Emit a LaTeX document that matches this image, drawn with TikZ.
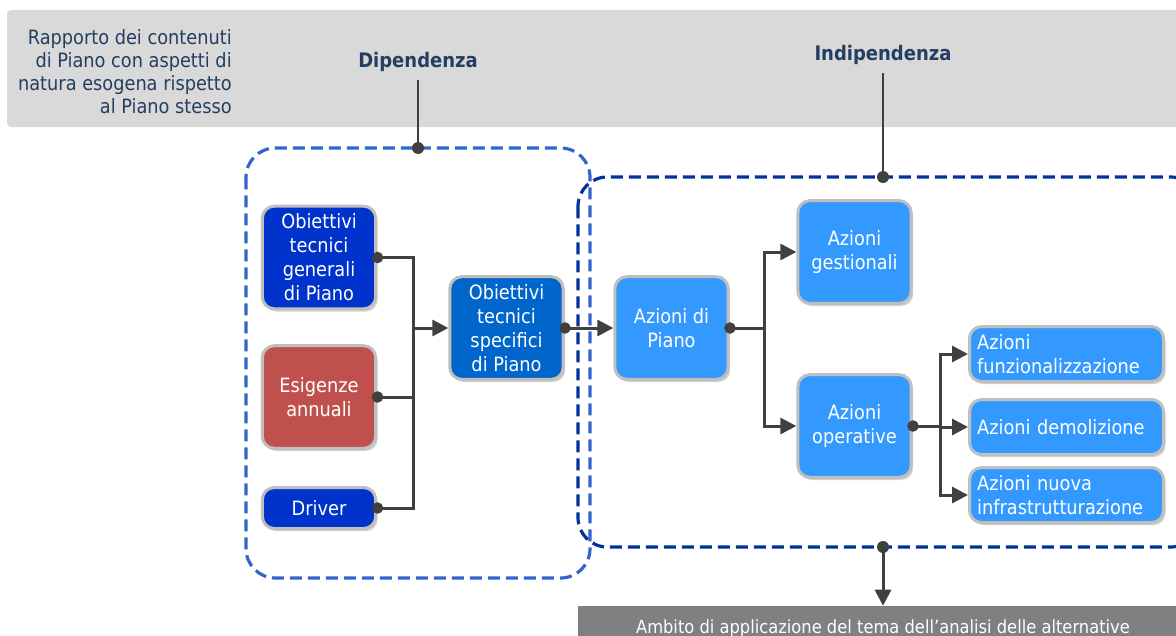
\documentclass[tikz,border=0pt]{standalone}
\usepackage{fontspec}
\setmainfont{DejaVu Sans Condensed}
\usetikzlibrary{arrows.meta,shadows}

\definecolor{fascia}{HTML}{D9D9D9}
\definecolor{titolo}{HTML}{243E62}
\definecolor{dipblu}{HTML}{3366CC}
\definecolor{indblu}{HTML}{003399}
\definecolor{blusc}{HTML}{0033CC}
\definecolor{blumd}{HTML}{0066CC}
\definecolor{bluch}{HTML}{3399FF}
\definecolor{rosso}{HTML}{C0504D}
\definecolor{bordo}{HTML}{BFBFBF}
\definecolor{filo}{HTML}{404040}
\definecolor{barra}{HTML}{808080}

\tikzset{
  blocco/.style={draw=bordo, line width=2.25pt, rounded corners=9pt, text=white, align=center,
    inner sep=2pt, font=\fontsize{14.8pt}{18pt}\selectfont,
    drop shadow={shadow xshift=1.5pt, shadow yshift=-2pt, opacity=0.3, fill=black!60}},
  grande/.style={blocco, minimum width=85pt, minimum height=77pt},
  lungo/.style={blocco, minimum width=145.5pt, minimum height=41.25pt, text width=134pt,
    inner xsep=5.75pt, align=left},
  conn/.style={draw=filo, line width=2.25pt},
  punto/.style={conn, shorten <=-4pt, {Circle[length=8.5pt]}-},
  freccia/.style={conn, -{Triangle[length=12pt,width=12pt]}},
  cornice/.style={line width=2.4pt, dash pattern=on 9pt off 4.5pt, rounded corners=22pt},
  intest/.style={text=titolo, font=\bfseries\fontsize{15pt}{18pt}\selectfont}
}

\begin{document}
\begin{tikzpicture}[x=0.75pt, y=-0.75pt]
  \useasboundingbox (0,0) rectangle (1176,635);
  \clip (0,0) rectangle (1176,635);

  % fascia in alto
  \fill[fascia, rounded corners=3pt] (7,10) rectangle (1200,127);
  \node[anchor=east, align=right, text=titolo, inner sep=0pt,
        font=\fontsize{14.8pt}{17.25pt}\selectfont] (rapp) at (232,72)
        {Rapporto dei contenuti\\di Piano con aspetti di\\natura esogena rispetto\\al Piano stesso};
  \node[intest] (dip) at (418,62) {Dipendenza};
  \node[intest] (indip) at (883,55) {Indipendenza};

  % cornici tratteggiate
  \draw[cornice, dipblu] (246,148) rectangle (590,578);
  \draw[cornice, indblu] (578,177) rectangle (1200,547);
  \coordinate (pdip) at (418,148);
  \coordinate (pind) at (883,177);
  \coordinate (pbas) at (883,547);
  \draw[filo, line width=1.5pt, shorten <=3pt] (dip) -- (pdip);
  \draw[filo, line width=1.5pt, shorten <=3pt] (indip) -- (pind);
  \fill[filo] (pdip) circle[radius=4.5pt] (pind) circle[radius=4.5pt] (pbas) circle[radius=4.5pt];

  % blocchi
  \node[grande, fill=blusc] (otg) at (319,257.5) {Obiettivi\\tecnici\\generali\\di Piano};
  \node[grande, fill=rosso] (esig) at (319,397) {Esigenze\\annuali};
  \node[blocco, fill=blusc, minimum width=85pt, minimum height=30.75pt] (drv) at (319,508) {Driver};
  \node[grande, fill=blumd] (ots) at (506.5,328) {Obiettivi\\tecnici\\specifici\\di Piano};
  \node[grande, fill=bluch] (adp) at (671.5,328) {Azioni di\\Piano};
  \node[grande, fill=bluch] (gest) at (854.5,252) {Azioni\\gestionali};
  \node[grande, fill=bluch] (oper) at (854.5,426) {Azioni\\operative};
  \node[lungo, fill=bluch] (funz) at (1066.5,354) {Azioni\\funzionalizzazione};
  \node[lungo, fill=bluch] (demol) at (1066.5,427) {Azioni demolizione};
  \node[lungo, fill=bluch] (nuova) at (1066.5,495) {Azioni nuova\\infrastrutturazione};

  % collegamenti
  \coordinate (j1) at (413,328);
  \coordinate (j2) at (764,328);
  \coordinate (j3) at (940,426);
  \draw[punto] (otg.east) -| (j1);
  \draw[punto] (esig.east) -| (j1);
  \draw[punto] (drv.east) -| (j1);
  \draw[freccia] (j1) -- (ots.west);
  \draw[conn, shorten <=-4pt, {Circle[length=8.5pt]}-{Triangle[length=12pt,width=12pt]}] (ots.east) -- (adp.west);
  \draw[punto] (adp.east) -- (j2);
  \draw[freccia] (j2) |- (gest.west);
  \draw[freccia] (j2) |- (oper.west);
  \draw[punto] (oper.east) -- (j3);
  \draw[freccia] (j3) |- (funz.west);
  \draw[freccia] (j3) |- (demol.west);
  \draw[freccia] (j3) |- (nuova.west);

  % ambito
  \node[fill=barra, text=white, minimum width=457.5pt, minimum height=33pt, inner sep=0pt,
        font=\fontsize{13.6pt}{16pt}\selectfont] (amb) at (883,628) {Ambito di applicazione del tema dell’analisi delle alternative};
  \draw[freccia] (pbas) -- (amb.north);
\end{tikzpicture}
\end{document}
